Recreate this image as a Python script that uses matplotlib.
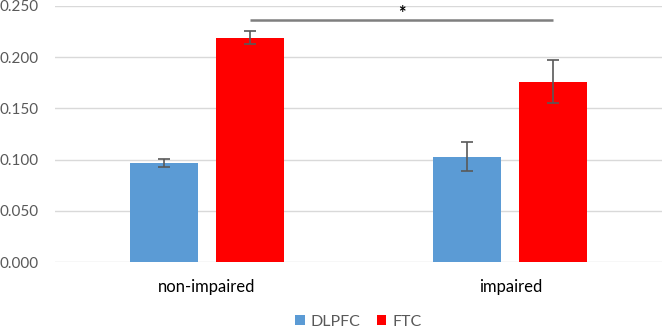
import numpy as np
import matplotlib
matplotlib.use("Agg")
import matplotlib.pyplot as plt

# --- data ---
categories = ["non-impaired", "impaired"]
series = ["DLPFC", "FTC"]
dlpfc_vals = [0.097, 0.103]
dlpfc_err = [0.004, 0.014]
ftc_vals = [0.219, 0.176]
ftc_err = [0.006, 0.021]
yticks = [0.0, 0.05, 0.10, 0.15, 0.20, 0.25]

COLORS = {"DLPFC": "#5b9bd5", "FTC": "#ff0000"}
GREY = "#595959"

plt.rcParams["font.family"] = ["Lato", "DejaVu Sans"]

fig = plt.figure(figsize=(6.62, 3.29), dpi=100)
ax = fig.add_axes([0.083, 0.2027, 0.917, 0.78])

x = np.arange(len(categories))
width = 0.224
offset = 0.142

ax.bar(x - offset, dlpfc_vals, width, color=COLORS["DLPFC"], label="DLPFC",
       yerr=dlpfc_err, error_kw=dict(ecolor=GREY, elinewidth=1.2, capsize=4, capthick=1.2),
       zorder=3)
ax.bar(x + offset, ftc_vals, width, color=COLORS["FTC"], label="FTC",
       yerr=ftc_err, error_kw=dict(ecolor=GREY, elinewidth=1.2, capsize=4, capthick=1.2),
       zorder=3)

# significance bar between the two FTC bars
sig_y = 0.236
ax.plot([x[0] + offset, x[1] + offset], [sig_y, sig_y], color="#7f7f7f", lw=1.8, zorder=4,
        solid_capstyle="butt", clip_on=False)
ax.text((x[0] + x[1]) / 2 + offset, 0.2425, "*", ha="center", va="center",
        fontsize=13, fontweight="bold", color="black")

ax.set_xlim(-0.5, 1.5)
ax.set_ylim(0, 0.25)
ax.set_yticks(yticks)
ax.set_yticklabels([f"{v:.3f}" for v in yticks])
ax.set_xticks(x)
ax.set_xticklabels(categories)

ax.grid(axis="y", color="#d9d9d9", lw=1, zorder=0)
for s in ax.spines.values():
    s.set_visible(False)
ax.tick_params(axis="y", length=0, pad=12, labelsize=11, labelcolor=GREY)
ax.tick_params(axis="x", length=0, pad=12, labelsize=12, labelcolor="black")

ax.legend(loc="center", bbox_to_anchor=(0.5, -0.232), ncol=2, frameon=False,
          fontsize=11.5, handlelength=0.6, handleheight=0.6, handletextpad=0.4,
          columnspacing=1.0, labelcolor=GREY)

fig.savefig("out.png", dpi=100)
